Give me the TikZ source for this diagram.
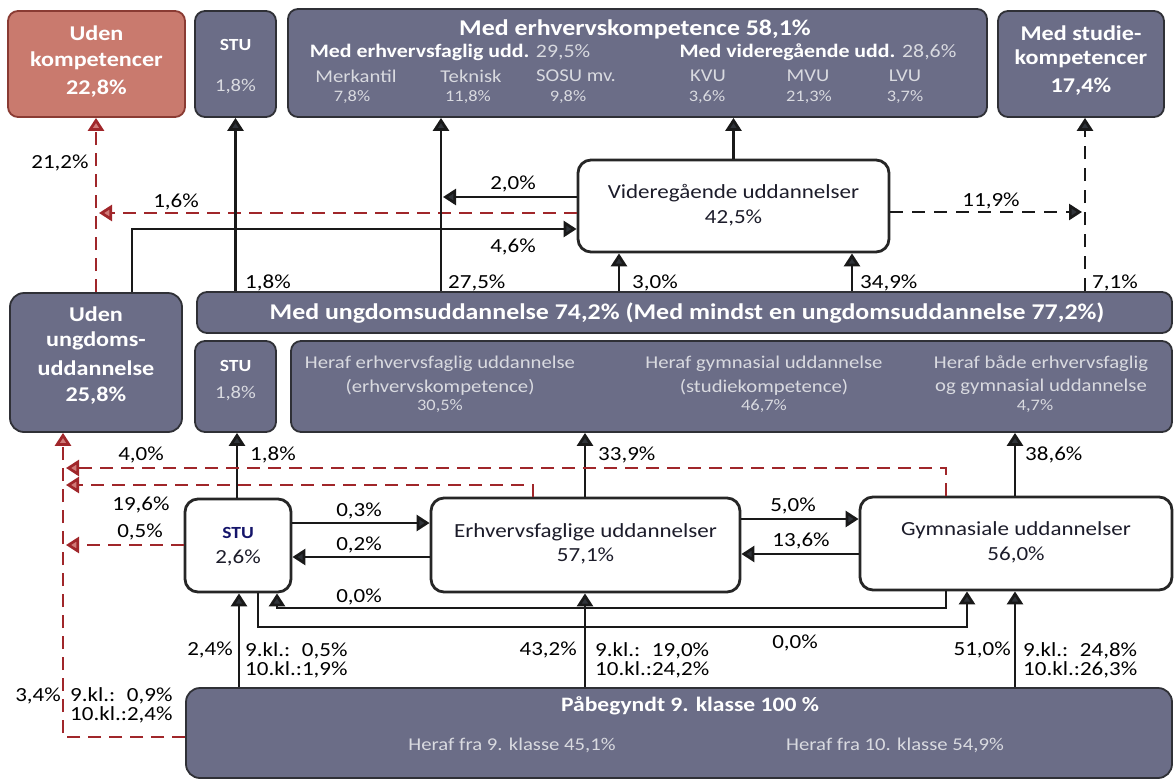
\documentclass[tikz,border=0pt]{standalone}
\usepackage{fontspec}
\setmainfont[FakeStretch=1.15]{Carlito}
\usetikzlibrary{arrows.meta}
\definecolor{boxgray}{HTML}{6B6D87}
\definecolor{boxedge}{HTML}{2F3036}
\definecolor{redfill}{HTML}{C97A6E}
\definecolor{rededge}{HTML}{8A3B33}
\definecolor{dashred}{HTML}{A0262A}
\definecolor{arrred}{HTML}{D07A78}
\definecolor{arrblack}{HTML}{30343A}
\definecolor{lightg}{HTML}{D9DAE0}
\definecolor{inktxt}{HTML}{1C1C2A}
\newcommand\fsz[1]{\fontsize{#1}{#1}\selectfont}
\begin{document}
\begin{tikzpicture}[x=1pt,y=-1pt,
  gbox/.style={draw=boxedge, line width=1.8pt, fill=boxgray, rounded corners=10pt, inner sep=0pt},
  rbox/.style={draw=rededge, line width=1.8pt, fill=redfill, rounded corners=10pt, inner sep=0pt},
  wbox/.style={draw=black!85, line width=2.8pt, fill=white, rounded corners=13pt, inner sep=0pt},
  wb/.style={text=white, font=\bfseries\fsz{21}, inner sep=0pt},
  wbs/.style={text=white, font=\bfseries\fsz{17}, inner sep=0pt},
  lg/.style={text=lightg, font=\fsz{18}, inner sep=0pt},
  lgs/.style={text=lightg, font=\fsz{16}, inner sep=0pt},
  bt/.style={text=inktxt, font=\fsz{20}, inner sep=0pt},
  lbl/.style={text=black, font=\fsz{20}, inner sep=0pt},
  arr/.style={line width=2.7pt, draw=black!90, -{Triangle[width=16pt,length=13pt,fill=arrblack]}},
  barr/.style={arr, dash pattern=on 13pt off 9pt},
  rarr/.style={line width=2.7pt, draw=dashred, dash pattern=on 13pt off 8pt, -{Triangle[width=16pt,length=13pt,fill=arrred]}}
]
\useasboundingbox (0,0) rectangle (1175,782);
\fill[white] (0,0) rectangle (1175,782);

% ---------- boxes ----------
\node[rbox, minimum width=177pt, minimum height=106pt] (uk) at (96.5,64) {};
\node[gbox, minimum width=81pt, minimum height=106pt] (stu1) at (235.5,64) {};
\node[gbox, minimum width=699pt, minimum height=108pt] (mek) at (637.5,63) {};
\node[gbox, minimum width=166pt, minimum height=106pt] (msk) at (1081,64) {};
\node[wbox, minimum width=311pt, minimum height=92pt] (vid) at (733.5,206) {};
\node[gbox, rounded corners=14pt, minimum width=172pt, minimum height=139pt] (uu) at (96,362.5) {};
\node[gbox, minimum width=975pt, minimum height=41pt] (mu) at (684.5,312.5) {};
\node[gbox, minimum width=81pt, minimum height=91pt] (stu2) at (235.5,386.5) {};
\node[gbox, minimum width=881pt, minimum height=91pt] (heraf) at (731.5,386.5) {};
\node[wbox, minimum width=106pt, minimum height=93pt] (stu3) at (238,545.5) {};
\node[wbox, minimum width=309pt, minimum height=94pt] (erh) at (585.5,545) {};
\node[wbox, minimum width=312pt, minimum height=93pt] (gym) at (1016,543.5) {};
\node[gbox, rounded corners=14pt, minimum width=986pt, minimum height=90pt] (pab) at (679,733) {};

% ---------- box texts ----------
\node[wb] (t1) at (96.5,33) {Uden};
\node[wb] (t2) at (96.5,61) {kompetencer};
\node[wb] (t3) at (96.5,89) {22,8\%};
\node[wbs] (t4) at (235.5,45) {STU};
\node[lg] (t5) at (235.5,87) {1,8\%};
\node[wb, font=\bfseries\fsz{22.5}] (t6) at (635,29) {Med erhvervskompetence 58,1\%};
\node[wbs, font=\bfseries\fsz{19}] (t7) at (450,52) {Med erhvervsfaglig udd. {\mdseries\color{lightg}29,5\%}};
\node[wbs, font=\bfseries\fsz{19}] (t8) at (818,52) {Med videregående udd. {\mdseries\color{lightg}28,6\%}};
\node[lg] (t9) at (356,76) {Merkantil};
\node[lg] (t10) at (471,76) {Teknisk};
\node[lg] (t11) at (576,76) {SOSU mv.};
\node[lg] (t12) at (708,76) {KVU};
\node[lg] (t13) at (808,76) {MVU};
\node[lg] (t14) at (905,76) {LVU};
\node[lgs] (t15) at (352,97) {7,8\%};
\node[lgs] (t16) at (468,97) {11,8\%};
\node[lgs] (t17) at (568,97) {9,8\%};
\node[lgs] (t18) at (707,97) {3,6\%};
\node[lgs] (t19) at (809,97) {21,3\%};
\node[lgs] (t20) at (905,97) {3,7\%};
\node[wb] (t21) at (1081,33) {Med studie-};
\node[wb] (t22) at (1081,59) {kompetencer};
\node[wb] (t23) at (1081,87) {17,4\%};
\node[bt] (t24) at (733.5,193) {Videregående uddannelser};
\node[bt] (t25) at (733.5,218) {42,5\%};
\node[wb] (t26) at (96,314) {Uden};
\node[wb] (t27) at (96,341) {ungdoms-};
\node[wb] (t28) at (96,368) {uddannelse};
\node[wb] (t29) at (96,396) {25,8\%};
\node[wb, font=\bfseries\fsz{22.5}] (t30) at (687,313) {Med ungdomsuddannelse 74,2\% (Med mindst en ungdomsuddannelse 77,2\%)};
\node[wbs] (t31) at (235.5,366) {STU};
\node[lg] (t32) at (235.5,393) {1,8\%};
\node[lg] (t33) at (440,364) {Heraf erhvervsfaglig uddannelse};
\node[lg] (t34) at (440,387) {(erhvervskompetence)};
\node[lgs] (t35) at (440,406) {30,5\%};
\node[lg] (t36) at (764,364) {Heraf gymnasial uddannelse};
\node[lg] (t37) at (764,387) {(studiekompetence)};
\node[lgs] (t38) at (764,406) {46,7\%};
\node[lg] (t39) at (1041,364) {Heraf både erhvervsfaglig};
\node[lg] (t40) at (1041,387) {og gymnasial uddannelse};
\node[lgs] (t41) at (1035,406) {4,7\%};
\node[bt, text=inktxt!70!blue, font=\bfseries\fsz{17}] (t42) at (238,533) {STU};
\node[bt] (t43) at (238,558) {2,6\%};
\node[bt] (t44) at (585.5,532) {Erhvervsfaglige uddannelser};
\node[bt] (t45) at (585.5,556) {57,1\%};
\node[bt] (t46) at (1016,530) {Gymnasiale uddannelser};
\node[bt] (t47) at (1016,555) {56,0\%};
\node[wb, font=\bfseries\fsz{20.5}] (t48) at (690,706) {Påbegyndt 9. klasse 100 \%};
\node[lg] (t49) at (512,745) {Heraf fra 9. klasse 45,1\%};
\node[lg] (t50) at (895,745) {Heraf fra 10. klasse 54,9\%};

% ---------- helper coordinates ----------
\coordinate (c96) at (96,0);   \coordinate (c132) at (132,0);
\coordinate (c441) at (441,0); \coordinate (c619) at (619,0);
\coordinate (c852) at (852,0); \coordinate (c1085) at (1085,0);
\coordinate (c63) at (63,0);   \coordinate (c237) at (237,0);
\coordinate (c239) at (239,0); \coordinate (c533) at (533,0);
\coordinate (c585) at (585,0); \coordinate (c946) at (946,0);
\coordinate (c1015) at (1015,0); \coordinate (c276) at (277,0);
\coordinate (c259) at (258,0); \coordinate (c967) at (967,0);
\coordinate (r197) at (0,197); \coordinate (r213) at (0,213);
\coordinate (r229) at (0,229); \coordinate (r521) at (0,523);
\coordinate (r556) at (0,557); \coordinate (r519) at (0,519);
\coordinate (r554) at (0,554); \coordinate (r545) at (0,545);
\coordinate (r607) at (0,608); \coordinate (r627) at (0,627);
\coordinate (r737) at (0,737); \coordinate (r468) at (0,468);
\coordinate (r485) at (0,485);
\coordinate (j16) at (99,213);  \coordinate (j20) at (443,197);
\coordinate (j119) at (1082,212);
\coordinate (j40) at (66,468);  \coordinate (j196) at (66,485);
\coordinate (j05) at (66,545);

% ---------- upper connectors ----------
\draw[rarr] (uu.north -| c96) -- (uk.south -| c96);
\draw[rarr] (vid.west |- r213) -- (j16);
\draw[arr] (vid.west |- r197) -- (j20);
\draw[arr] (uu.north -| c132) |- (vid.west |- r229);
\draw[arr] (mu.north -| stu1.south) -- (stu1.south);
\draw[arr] (mu.north -| c441) -- (mek.south -| c441);
\draw[arr] (mu.north -| c619) -- (vid.south -| c619);
\draw[arr] (mu.north -| c852) -- (vid.south -| c852);
\draw[arr] (vid.north) -- (vid.north |- mek.south);
\draw[barr] (mu.north -| c1085) -- (msk.south -| c1085);
\draw[barr] (vid.east |- j119) -- (j119);

% ---------- lower connectors ----------
\draw[arr] (stu3.north -| c237) -- (stu2.south -| c237);
\draw[arr] (erh.north -| c585) -- (heraf.south -| c585);
\draw[arr] (gym.north -| c1015) -- (heraf.south -| c1015);
\draw[rarr] (gym.north -| c946) |- (j40);
\draw[rarr] (erh.north -| c533) |- (j196);
\draw[rarr] (stu3.west |- r545) -- (j05);
\draw[rarr] (pab.west |- r737) -| (uu.south -| c63);
\draw[arr] (stu3.east |- r521) -- (erh.west |- r521);
\draw[arr] (erh.west |- r556) -- (stu3.east |- r556);
\draw[arr] (erh.east |- r519) -- (gym.west |- r519);
\draw[arr] (gym.west |- r554) -- (erh.east |- r554);
\draw[arr] (gym.south -| c946) -- (c946 |- r607) -| (stu3.south -| c276);
\draw[arr] (stu3.south -| c259) -- (c259 |- r627) -| (gym.south -| c967);
\draw[arr] (pab.north -| c239) -- (stu3.south -| c239);
\draw[arr] (pab.north -| c585) -- (erh.south -| c585);
\draw[arr] (pab.north -| c1015) -- (gym.south -| c1015);

% ---------- labels ----------
\node[lbl] (l1) at (60,163) {21,2\%};
\node[lbl] (l2) at (176,202) {1,6\%};
\node[lbl] (l3) at (513,184) {2,0\%};
\node[lbl] (l4) at (513,247) {4,6\%};
\node[lbl] (l5) at (991,201) {11,9\%};
\node[lbl, anchor=west] (l6) at (245,283) {1,8\%};
\node[lbl, anchor=west] (l7) at (448,283) {27,5\%};
\node[lbl, anchor=west] (l8) at (632,283) {3,0\%};
\node[lbl, anchor=west] (l9) at (860,283) {34,9\%};
\node[lbl, anchor=west] (l10) at (1092,283) {7,1\%};
\node[lbl] (l11) at (141,455) {4,0\%};
\node[lbl, anchor=west] (l12) at (250,455) {1,8\%};
\node[lbl, anchor=west] (l13) at (598,455) {33,9\%};
\node[lbl, anchor=west] (l14) at (1025,455) {38,6\%};
\node[lbl] (l15) at (141,505) {19,6\%};
\node[lbl] (l16) at (140,532) {0,5\%};
\node[lbl] (l17) at (359,511) {0,3\%};
\node[lbl] (l18) at (359,545) {0,2\%};
\node[lbl] (l19) at (793,506) {5,0\%};
\node[lbl] (l20) at (801,541) {13,6\%};
\node[lbl] (l21) at (359,597) {0,0\%};
\node[lbl] (l22) at (795,643) {0,0\%};
\node[lbl, anchor=east] (l23) at (233,650) {2,4\%};
\node[lbl, anchor=east] (l24) at (577,650) {43,2\%};
\node[lbl, anchor=east] (l25) at (1011,650) {51,0\%};
\node[lbl, anchor=east] (l26) at (61,696) {3,4\%};
\node[lbl, anchor=west] (l27) at (245,662)
  {\begin{tabular}{@{}l@{}r@{}}9.kl.: & 0,5\%\\[-1pt] 10.kl.: & 1,9\%\end{tabular}};
\node[lbl, anchor=west] (l28) at (595,662)
  {\begin{tabular}{@{}l@{}r@{}}9.kl.: & 19,0\%\\[-1pt] 10.kl.: & 24,2\%\end{tabular}};
\node[lbl, anchor=west] (l29) at (1023,662)
  {\begin{tabular}{@{}l@{}r@{}}9.kl.: & 24,8\%\\[-1pt] 10.kl.: & 26,3\%\end{tabular}};
\node[lbl, anchor=west] (l30) at (70,707)
  {\begin{tabular}{@{}l@{}r@{}}9.kl.: & 0,9\%\\[-1pt] 10.kl.: & 2,4\%\end{tabular}};
\end{tikzpicture}
\end{document}
